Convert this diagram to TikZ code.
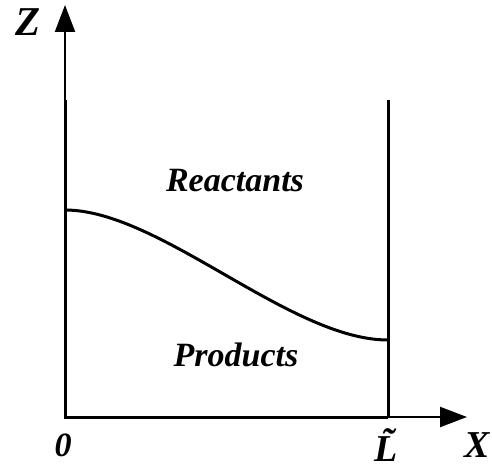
\documentclass[tikz,border=0pt]{standalone}
\usepackage{fontspec}
\setmainfont{Liberation Serif}
\usetikzlibrary{arrows.meta}
\begin{document}
\begin{tikzpicture}[x=1pt,y=-1pt,
  lbl/.style={font=\fontsize{34}{40}\selectfont\bfseries\itshape, inner sep=0pt},
  axlbl/.style={font=\fontsize{38}{44}\selectfont\bfseries\itshape, inner sep=0pt},
  wall/.style={line width=3pt},
  axis/.style={line width=2.2pt, -{Triangle[length=27pt,width=20pt]}},
  curve/.style={line width=3pt}]
\useasboundingbox (0,0) rectangle (492,473);
\coordinate (O) at (65,417);
\coordinate (Ltop) at (65,100);
\coordinate (Ztip) at (65,5);
\coordinate (R) at (388,417);
\coordinate (Rtop) at (388,100);
\coordinate (Xtip) at (467,417);
\coordinate (C0) at (65,210);
\coordinate (C1) at (388,340);
% walls and axes
\draw[wall] (Ltop) -- (O) -- (R);
\draw[wall] (Rtop) -- (R);
\draw[axis] (Ltop) -- (Ztip);
\draw[axis] (R) -- (Xtip);
% interface
\draw[curve] (C0) .. controls (160,210) and (290,340) .. (C1);
% labels
\node[axlbl, font=\fontsize{41}{46}\selectfont\bfseries\itshape] (zl) at (28,22) {Z};
\node[axlbl] (xl) at (477,445) {X};
\node[lbl] (zero) at (63,445) {0};
\node[axlbl] (lt) at (386,445) {\~{L}};
\node[lbl] (react) at (235,181) {Reactants};
\node[lbl] (prod) at (236,355) {Products};
\end{tikzpicture}
\end{document}
